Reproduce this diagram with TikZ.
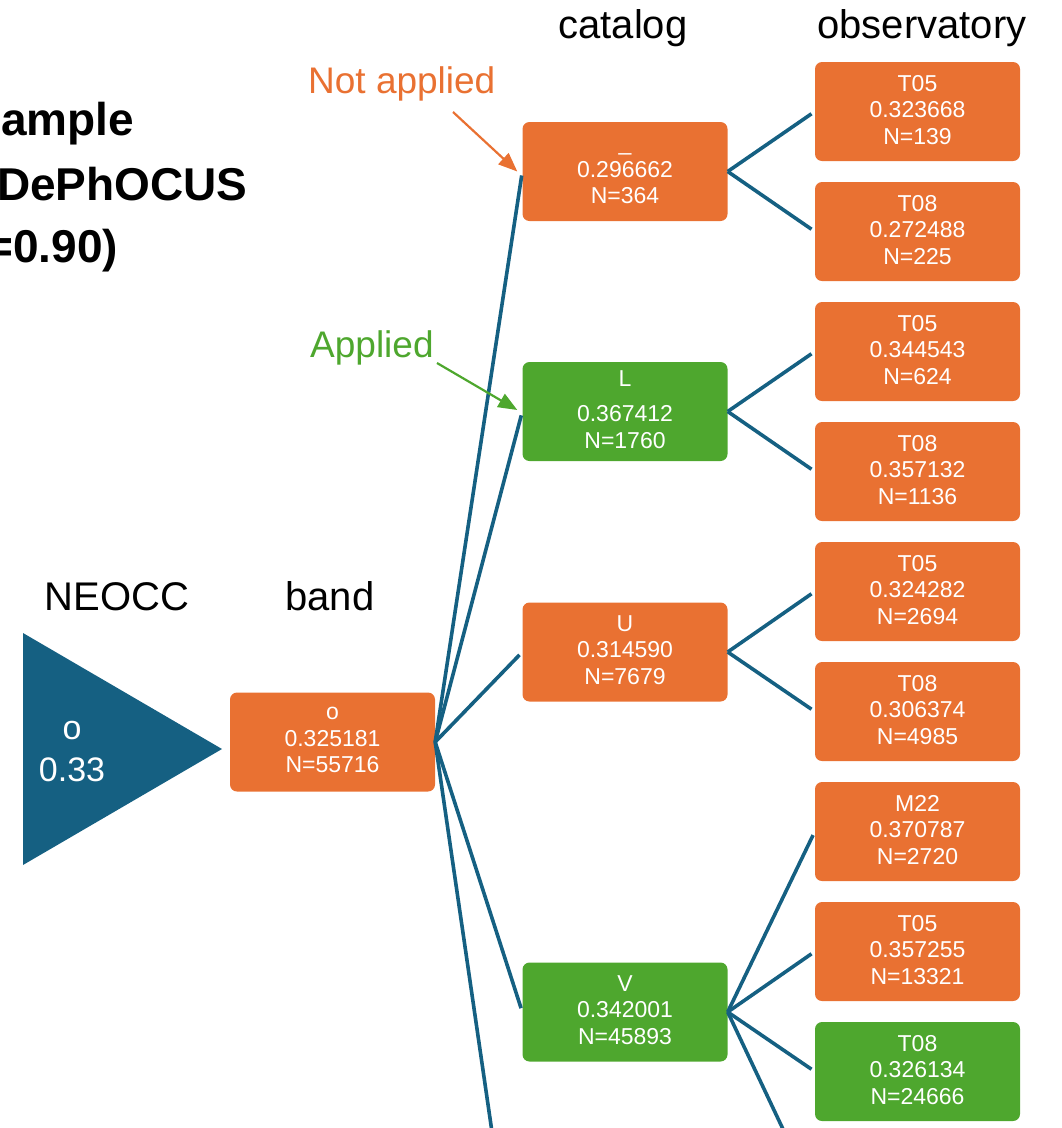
\documentclass[tikz,border=0pt]{standalone}
\usepackage{fontspec}
\setmainfont{Liberation Sans}
\usetikzlibrary{arrows.meta}
\definecolor{deepblue}{HTML}{156082}
\definecolor{tangerine}{HTML}{E97132}
\definecolor{leaf}{HTML}{4EA72E}

\begin{document}
\begin{tikzpicture}[x=1pt,y=-1pt,
  box/.style={rectangle, rounded corners=7pt, minimum width=205pt, minimum height=99pt,
    inner sep=0pt, text=white, align=center, font=\fontsize{23}{26.5}\selectfont,
    execute at end node={\rule[-4pt]{0pt}{4pt}}},
  skip/.style={box, fill=tangerine},
  keep/.style={box, fill=leaf},
  link/.style={draw=deepblue, line width=3.6pt, shorten >=4pt},
  head/.style={font=\fontsize{40}{48}\selectfont, anchor=base, inner sep=0pt},
  note/.style={font=\fontsize{37}{44}\selectfont, anchor=base west, inner sep=0pt},
  titletext/.style={font=\fontsize{46}{55}\selectfont\bfseries, anchor=base west, inner sep=0pt},
  pointer/.style={line width=2.2pt, -{Triangle[length=19pt,width=15pt]}},
]
\useasboundingbox (0,0) rectangle (1062,1128);
\clip (0,0) rectangle (1062,1128);

% title block, running in from the left edge
\node[titletext] (title1) at (1,135) {ample};
\node[titletext] (title2) at (-3,200) {DePhOCUS};
\node[titletext] (title3) at (-14,262) {=0.90)};

% column headings
\node[head] (hneocc) at (117,610) {NEOCC};
\node[head] (hband) at (330,610) {band};
\node[head] (hcat) at (623,38) {catalog};
\node[head] (hobs) at (922,38) {observatory};

% root triangle
\fill[deepblue] (23,633) -- (222,749) -- (23,865) -- cycle;
\node[text=white, font=\fontsize{34}{40}\selectfont, inner sep=0pt] (rootband) at (72,731) {o};
\node[text=white, font=\fontsize{34}{40}\selectfont, inner sep=0pt] (rootval) at (72,770) {0.33};

% band level
\node[skip] (band) at (332.5,742) {o\\0.325181\\N=55716};

% catalog level
\node[skip] (catnone) at (625,171.5) {\vphantom{T}\_\\0.296662\\N=364};
\node[keep] (catL) at (625,411.5) {L\\[9pt]0.367412\\N=1760};
\node[skip] (catU) at (625,652) {U\\0.314590\\N=7679};
\node[keep] (catV) at (625,1012) {V\\0.342001\\N=45893};
\coordinate (catmore) at (499,1180);

% observatory level
\node[skip] (o1) at (917.5,111.5) {T05\\0.323668\\N=139};
\node[skip] (o2) at (917.5,231.5) {T08\\0.272488\\N=225};
\node[skip] (o3) at (917.5,351.5) {T05\\0.344543\\N=624};
\node[skip] (o4) at (917.5,471.5) {T08\\0.357132\\N=1136};
\node[skip] (o5) at (917.5,591.5) {T05\\0.324282\\N=2694};
\node[skip] (o6) at (917.5,711.5) {T08\\0.306374\\N=4985};
\node[skip] (o7) at (917.5,831.5) {M22\\0.370787\\N=2720};
\node[skip] (o8) at (917.5,951.5) {T05\\0.357255\\N=13321};
\node[keep] (o9) at (917.5,1071.5) {T08\\0.326134\\N=24666};
\coordinate (obsmore) at (807,1180);

% tree edges
\draw[link] (band.east) -- (catnone.west);
\draw[link] (band.east) -- (catL.west);
\draw[link] (band.east) -- (catU.west);
\draw[link] (band.east) -- (catV.west);
\draw[link, shorten >=0pt] (band.east) -- (catmore);

\draw[link] (catnone.east) -- (o1.west);
\draw[link] (catnone.east) -- (o2.west);
\draw[link] (catL.east) -- (o3.west);
\draw[link] (catL.east) -- (o4.west);
\draw[link] (catU.east) -- (o5.west);
\draw[link] (catU.east) -- (o6.west);
\draw[link] (catV.east) -- (o7.west);
\draw[link] (catV.east) -- (o8.west);
\draw[link] (catV.east) -- (o9.west);
\draw[link, shorten >=0pt] (catV.east) -- (obsmore);

% annotations
\node[note, text=tangerine] (notapplied) at (308,93) {Not applied};
\coordinate (notstart) at (453,112);
\draw[pointer, draw=tangerine, fill=tangerine] (notstart) -- ([xshift=-5pt]catnone.west);
\node[note, text=leaf] (applied) at (310,357) {Applied};
\coordinate (appstart) at (437,363);
\draw[pointer, draw=leaf, fill=leaf] (appstart) -- ([xshift=-5pt,yshift=1.5pt]catL.west);
\end{tikzpicture}
\end{document}
